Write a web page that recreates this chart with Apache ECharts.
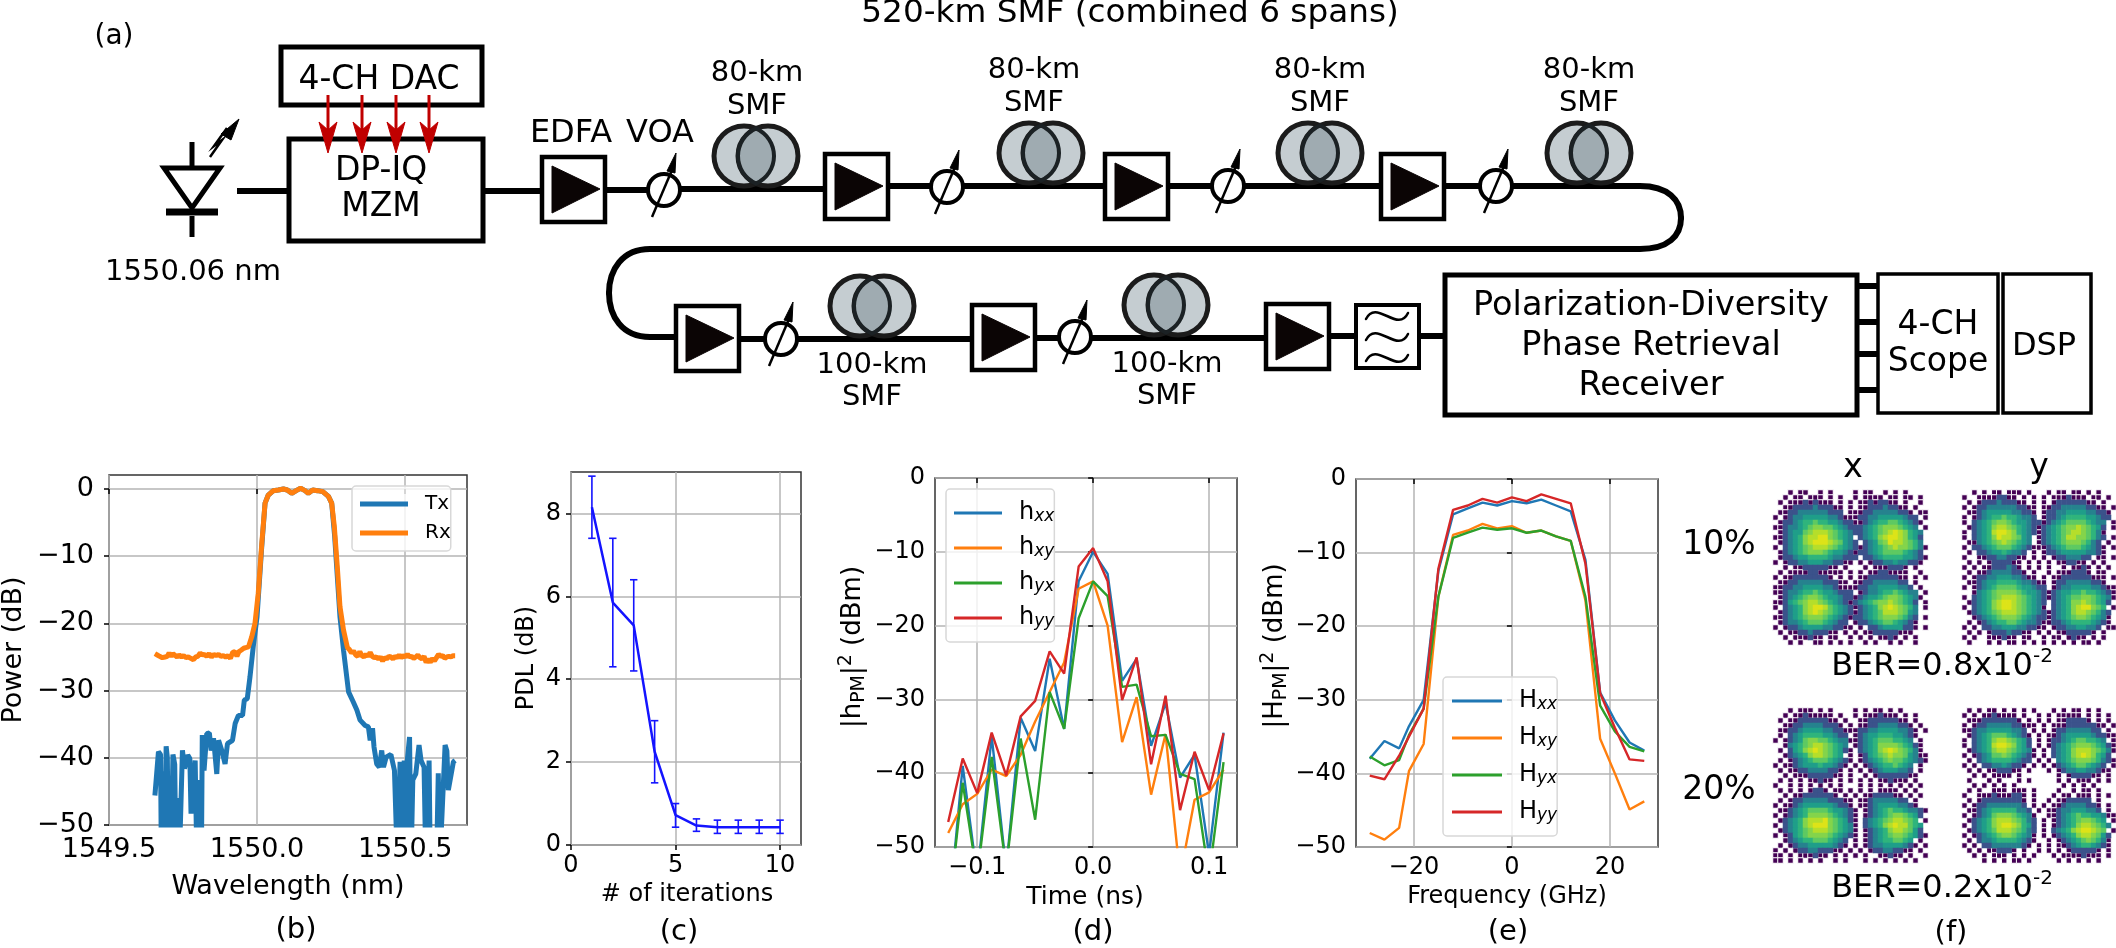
<!DOCTYPE html>
<html>
<head>
<meta charset="utf-8">
<title>520-km SMF</title>
<script src="https://cdn.jsdelivr.net/npm/echarts@6/dist/echarts.min.js"></script>
<style>
html, body { margin: 0; padding: 0; background: #fff; }
#main { width: 2116px; height: 948px; }
</style>
</head>
<body>
<div id="main"></div>
<script>
// (b) spectra
var wavelengthTx = [1549.655,1549.667,1549.674,1549.677,1549.683,1549.687,1549.693,1549.697,1549.701,1549.705,1549.709,1549.716,1549.722,1549.726,1549.731,1549.735,1549.741,1549.748,1549.755,1549.766,1549.773,1549.777,1549.791,1549.797,1549.800,1549.804,1549.808,1549.812,1549.815,1549.821,1549.830,1549.839,1549.845,1549.853,1549.864,1549.870,1549.881,1549.892,1549.900,1549.917,1549.926,1549.937,1549.951,1549.957,1549.967,1549.976,1549.987,1550.000,1550.015,1550.027,1550.038,1550.055,1550.072,1550.089,1550.102,1550.117,1550.132,1550.147,1550.162,1550.173,1550.188,1550.204,1550.222,1550.241,1550.252,1550.262,1550.280,1550.292,1550.309,1550.325,1550.337,1550.348,1550.365,1550.376,1550.382,1550.390,1550.395,1550.404,1550.413,1550.421,1550.427,1550.436,1550.452,1550.464,1550.474,1550.483,1550.489,1550.497,1550.501,1550.508,1550.515,1550.520,1550.526,1550.536,1550.547,1550.554,1550.564,1550.570,1550.581,1550.585,1550.606,1550.612,1550.617,1550.635,1550.641,1550.646,1550.663,1550.669];
var powerTx = [-45.6,-39.1,-39.5,-56,-42,-56,-38.3,-40,-56,-43,-56,-39.5,-41,-56,-46,-56,-50,-38.9,-41.6,-39.6,-40.1,-48.3,-40.4,-56,-43.3,-56,-43.3,-56,-36.6,-41.9,-36.4,-36.3,-38.9,-37.1,-42.4,-37.4,-38.9,-40.9,-37.9,-37.4,-34.9,-33.7,-33.7,-31.4,-31.2,-28,-23.5,-19,-9.1,-2.1,-0.9,-0.25,-0.15,0,-0.15,-0.65,-0.25,0.1,-0.25,-0.65,-0.15,-0.25,-0.4,-1.1,-2.1,-7,-19,-24,-30.2,-31.7,-32.9,-34.4,-35.2,-35.4,-37.4,-35.6,-38.4,-40.9,-41.4,-38.9,-41.4,-39.9,-39.5,-41.9,-56,-40.6,-56,-40.4,-56,-40.1,-36.9,-56,-43.3,-42.4,-38.1,-40.4,-41.4,-56,-40.4,-56,-56,-42.3,-56,-38.1,-39,-44.8,-40.6,-40.4];
var wavelengthRx = [1549.655,1549.663,1549.671,1549.680,1549.689,1549.697,1549.703,1549.710,1549.716,1549.722,1549.730,1549.737,1549.745,1549.752,1549.760,1549.768,1549.776,1549.785,1549.793,1549.800,1549.808,1549.815,1549.822,1549.830,1549.838,1549.846,1549.854,1549.862,1549.870,1549.878,1549.886,1549.894,1549.902,1549.910,1549.918,1549.925,1549.932,1549.939,1549.946,1549.955,1549.962,1549.971,1549.982,1549.993,1550.004,1550.016,1550.027,1550.038,1550.055,1550.072,1550.089,1550.102,1550.117,1550.132,1550.147,1550.162,1550.173,1550.188,1550.204,1550.222,1550.241,1550.252,1550.261,1550.271,1550.280,1550.292,1550.305,1550.312,1550.319,1550.326,1550.333,1550.340,1550.347,1550.354,1550.361,1550.368,1550.375,1550.382,1550.389,1550.396,1550.403,1550.410,1550.417,1550.424,1550.431,1550.438,1550.445,1550.452,1550.459,1550.466,1550.473,1550.480,1550.487,1550.494,1550.501,1550.508,1550.515,1550.522,1550.529,1550.536,1550.543,1550.550,1550.557,1550.564,1550.571,1550.578,1550.585,1550.592,1550.599,1550.606,1550.613,1550.620,1550.627,1550.634,1550.641,1550.648,1550.655,1550.662,1550.669];
var powerRx = [-24.5,-24.7,-24.9,-25.1,-25,-24.9,-24.4,-24.9,-24.5,-24.7,-25,-24.7,-25,-24.8,-25.1,-25,-25.2,-25.4,-25,-24.9,-24.4,-24.7,-24.6,-24.9,-24.5,-25,-24.6,-24.8,-24.6,-24.9,-24.8,-25,-24.8,-25.2,-24.3,-24.2,-24.9,-24.2,-24,-23.7,-23.6,-23.5,-22,-20,-15.5,-8.1,-2.1,-0.9,-0.25,-0.15,0,-0.15,-0.65,-0.25,0.1,-0.25,-0.65,-0.15,-0.25,-0.4,-1.1,-2.1,-5.6,-11.6,-17.5,-21,-23.6,-23.9,-24.4,-24.1,-24.7,-24.9,-24.2,-24.8,-25,-24.6,-24.9,-24.3,-24.9,-25.1,-25,-25.3,-25,-25.6,-25.1,-25.3,-24.9,-25,-25.3,-24.9,-25.1,-24.7,-25.1,-24.8,-25,-24.6,-25,-24.9,-25.2,-25,-24.7,-25.1,-25.3,-24.9,-25.8,-25.3,-25.8,-25.2,-25.6,-25.1,-24.6,-24.9,-24.8,-25.2,-25,-24.9,-25,-24.8,-24.8];

// (c) PDL against iterations
var iterations = [1,2,3,4,5,6,7,8,9,10];
var pdlMean = [8.15,5.85,5.3,2.25,0.72,0.47,0.43,0.43,0.43,0.43];
var pdlLow = [7.4,4.3,4.2,1.5,0.43,0.33,0.28,0.28,0.28,0.28];
var pdlHigh = [8.9,7.4,6.4,3.0,1.0,0.63,0.6,0.6,0.6,0.6];

// (d) impulse responses
var timeNs = [-0.125,-0.1125,-0.1,-0.0875,-0.075,-0.0625,-0.05,-0.0375,-0.025,-0.0125,0,0.0125,0.025,0.0375,0.05,0.0625,0.075,0.0875,0.1,0.1125];
var hxx = [-60,-39,-54,-35,-53,-32.5,-37,-24.5,-34,-14,-10,-13,-27.5,-24.5,-36.3,-30.5,-40.6,-37.5,-51,-34.5];
var hxy = [-48.1,-44.2,-42.8,-39.5,-40.4,-37.5,-33,-29,-25,-15,-14,-20,-35.8,-29.7,-42.9,-34.7,-54,-43.6,-42.6,-39.5];
var hyx = [-59,-41.3,-54,-37.8,-53,-35.3,-46.3,-29,-34,-19,-14,-16,-28.3,-28,-35,-34.8,-40.1,-40.8,-54,-38.5];
var hyy = [-46.6,-38,-42.7,-34.5,-40.3,-32.3,-30.2,-23.5,-26.5,-12,-9.5,-14,-30.1,-24.3,-38.8,-29.5,-45,-37.1,-42.3,-34.6];

// (e) frequency responses
var freqGHz = [-29,-26,-23,-21,-18,-15,-12,-9,-6,-3,0,3,6,9,12,15,18,21,24,27];
var Hxx = [-38,-35.6,-36.6,-33.6,-30,-12.5,-4.8,-4,-3.2,-3.6,-3,-3.3,-2.8,-3.6,-4.4,-11,-29,-32.8,-35.8,-36.9];
var Hxy = [-48.1,-49,-47.4,-39.7,-36,-16,-7.6,-7,-6.1,-6.7,-6.4,-7.3,-7,-7.8,-8.4,-16.5,-35.3,-40,-44.9,-43.8];
var Hyx = [-37.7,-38.9,-38.2,-34.8,-31.2,-16,-8,-7.3,-6.6,-6.9,-6.7,-7.3,-7,-7.8,-8.4,-16,-30.8,-34.3,-36.4,-37];
var Hyy = [-40.3,-40.8,-37.6,-35,-31.2,-12.2,-4.2,-3.6,-2.7,-3.2,-2.5,-3,-2.1,-2.7,-3.3,-11.5,-29.1,-33.8,-38.1,-38.3];

// (f) constellation densities, estimated per cell, 0-9, . = empty
var density10x = [
"...1.11..1.1....1.11..1.1.1....","..1.11.111.1.1..1.1111.11.11.1.",".1.111212111.1.1.11212211.1..1.","..112222322211.1.1122232211.1..",
".1122333333222.1112233333221.11","1.123344444332111223344444322.1",".12234556554432211234556654321.","11233456776654322234567776543.1",
".12344678887654322345678987543.","1123457889976543.2345789987542.",".1234578999876432.234679887653.","1.23456788876543212345678776531",
".12345677765443212234566665432.",".1223445555433222.2234555544321","1.12233444332211.1.12233433221.","..1.112222211.1...1.1112221.1..",
".1.11112211111.1.1.11221111..1.","1.1122222221.1.1.1122222211.1.1",".11223333322211.11223333322.1..","1122334444332111122334444332.1.",
"1123345565443222.123345565433.1",".12345677654432212344567765431.","11245678876543212345677876542.1","1.234578998654321234578987653.1",
".1234578987654321234568887643..","11234567776543212234567776532.1",".12334566654322.1223456654321..","1.12234444332211.1.2234444221.1",
".1.1122322211.1.1.1122222111...","..1.111211.11..1.1.1.1121.1.1..","...1.1..11.1.1.1..1.1..1.1..1.."];
var density10y = [
"..1.1.11.111.1...1.11.11.1.1...","1..11112211.1.1.1.1112111.11.1.",".1.1222322211.1.1.122222211.1..","1.1223333332211.1122333332211.1",
".11234444433221.12233444433221.","1.1234556554332.12234555544322.","1.234567765443221234566665433.1",".1234578876543212345677876542.1",
"1.234589987543212345678876531..","1.234579887643.12345688776532.1",".1134567876543.1234567776532.1.","1.223456665432111234566654321.1",
".1.2234454332.1.1223444443321..","1..1122332211.1.1.12233322.11.1",".1.1.1222211.1.1.1.112211.1.1..","1.1.11222321.1.1.1..1.1121.1.1.",
".1.1123333221.1..1.1112221.11..","1.1223344433211.1.11222222111.1",".1123445555433211.12233333221..","1.123456666544322.1233444433211",
"..13456777765443212344556554321","1.23456788876543212345667765431",".1234578998765432.234577876542.","1.234578998765431.23457899765.1",
".12345678887654321234578876532.","..1234567776543221234567765431.",".1.123455665433211223455554321.","1.1.2233444332211.1223344332.11",
".1.1.122232211.1.1.11222221.1..","1.1..111211.11..1.11.1211.1.1..",".1...1.1.11.1.1.1.1.1.1.11.1..."];
var density20x = [
"...1.111.1.1....1.1.11.1.1.....","..1.11211111.1..1.1112111.1.1..",".1.1122222211.1..1122222211.1..","..112233332221.1.11223333221.1.",
".1122344443322111223344443321.1",".1.234555544322.1234455544321..","1.12346776654331123456665543.1.","..1345678876543.12345777765421.",
".1.2457898765421.2345789876531.","..123457887654.1.12456787764311",".1.1234566654321.12345676654321","1.1123444544321.1.1234556543.1.",
".1.11223333221.1.1.123444332.1.","..1.1112222211.1..1.122222211..",".1.1.1.11211.1.1.1.1.112111.1..","1..1.1.1.1.1.1...1.1.1.1.1.1.1.",
".1.1.1.1221.11.1.1.1.1111.1.1..","..1.112222221.1.1.11222211.1.1.",".1.1223333322211.1123333322.1..","1.11234444443221.112344443321..",
".1123456666544321.1234565543321","1.123457777654321.123456776542.",".1234578889765421.23456788765.1","1.234578999765431.234578988654.",
".1234567888765431.123457887642.","1.124567777654321.1234567765421","..1234556665432.1.1234556654.1.",".1.123344444321.1.12334444321.1",
"1.1.1223322211.1.1.122332211.1.","11.1.111211.1.1.1.1..11211.1..1","11.1.1.1.1..1.1...1.1.1.1.1.1.."];
var density20y = [
".1.1.11.1.1.1.1...1.1.11.1.1...","1.1.1121111.1..1.1.11111.1.1.1.",".11122222221.1.1.1.1122221.1.1.","1.1223333322111.1.11122222211.1",
"1123344444332.1.1.1223333322.1.",".1234566654321.1.11234444432211","1.234578876542.1.122345665543.1","1.234589987542.1.12345677765421",
".12345788765431.1.2345788876531","1.1234667654321.1.234578987542.",".1.23455554322.1.1.345677765321","1.1.223343221.1.1.12345665432.1",
".1.1.1122211.1...1.12334433211.","..1.1.1111.1.......1.1222211.1.",".1...1.1...1.1.....1.1.111.1.1.","..1.1.1.1.1.........1.1.1.1....",
".1.1..111.111.1....1..1.11.1...","1..1112111221.1...1.11.111.1.1.",".1.1222222221.1..1.1122222.1...","1.12233333332.1.1.1123333221.1.",
".1123455555332.1.11233444332.1.","1.1234677765431..11234565544311",".12345788876532.1.12345677654.1","1.2345789987542.1.123457887653.",
".12345688876532.1.23457899876.1","1.1234567765431.1.123457887642.",".1.233455554321..1.12345676531.","1.1.2233333321.1.1.11234554321.",
".1.1.112221.1..1.1.1.1222221.1.","..1.1.111.1.1.1...1.11112111.1.","....1.1.1.11.1.....1.1.1.1.1..."];

var FONT = '"DejaVu Sans"';
var C = ['#1f77b4', '#ff7f0e', '#2ca02c', '#d62728'];
var viridis = ['#440154', '#3b528b', '#26828e', '#1f9e89', '#2fb47c', '#5ec962', '#84d44b', '#b5de2b', '#dde318'];

function zip(a, b) { return a.map(function (v, i) { return [v, b[i]]; }); }
function minus(v) { return String(v).replace('-', '\u2212'); }
function cells(rows, lo, hi) {
	var out = [];
	rows.forEach(function (r, y) {
		for (var x = 0; x < r.length; x++) {
			if (r[x] !== '.' && +r[x] >= lo && +r[x] <= hi) out.push([x, y, +r[x]]);
		}
	});
	return out;
}

function xAxis(i, min, max, ticks, fmt, fs, margin) {
	return {
		type: 'value', gridIndex: i, min: min, max: max,
		axisLine: { show: false },
		axisTick: { show: true, customValues: ticks, length: 5, lineStyle: { color: '#000', width: 1.5 } },
		axisLabel: { customValues: ticks, formatter: fmt, fontFamily: FONT, fontSize: fs, color: '#000', margin: margin, hideOverlap: false },
		splitLine: { show: true, lineStyle: { color: '#b4b4b4', width: 1.5 } }
	};
}
function yAxis(i, min, max, ticks, fs, margin) {
	return {
		type: 'value', gridIndex: i, min: min, max: max,
		axisLine: { show: false },
		axisTick: { show: true, customValues: ticks, length: 5, lineStyle: { color: '#000', width: 1.5 } },
		axisLabel: { customValues: ticks, formatter: minus, fontFamily: FONT, fontSize: fs, color: '#000', margin: margin, hideOverlap: false },
		splitLine: { show: true, lineStyle: { color: '#b4b4b4', width: 1.5 } }
	};
}
function line(name, i, data, color, width) {
	return { name: name, type: 'line', xAxisIndex: i, yAxisIndex: i, data: data, showSymbol: false, symbol: 'none', animation: false,
		lineStyle: { color: color, width: width }, itemStyle: { color: color }, clip: true };
}
function frame(l, t, r, b) {
	return { left: l, top: t, width: r - l, height: b - t, show: true, borderColor: '#333', borderWidth: 1.5, backgroundColor: '#fff' };
}
function legendBox(names, left, top, w, itemH, gap, pad, fmt, rich, fs) {
	return {
		data: names, left: left, top: top, orient: 'vertical', icon: 'rect', itemWidth: w, itemHeight: itemH, itemGap: gap, padding: pad,
		backgroundColor: 'rgba(255,255,255,0.8)', borderColor: '#d8d8d8', borderWidth: 1.5, borderRadius: 4,
		formatter: fmt, selectedMode: false,
		textStyle: { fontFamily: FONT, fontSize: fs, color: '#000', rich: rich }
	};
}

// schematic drawn with graphic elements
var g = [];
function text(s, x, y, size, rot) {
	g.push({ type: 'text', x: x, y: y, rotation: rot || 0, silent: true,
		style: { text: s, x: 0, y: 0, align: 'center', verticalAlign: 'middle', fontFamily: FONT, fontSize: size, fill: '#000' } });
}
function box(x0, y0, x1, y1, lw) {
	g.push({ type: 'rect', shape: { x: x0, y: y0, width: x1 - x0, height: y1 - y0 }, style: { fill: '#fff', stroke: '#000', lineWidth: lw } });
}
function pl(points, stroke, lw) {
	g.push({ type: 'polyline', shape: { points: points }, style: { fill: null, stroke: stroke, lineWidth: lw } });
}
function tri(points, fill) {
	g.push({ type: 'polygon', shape: { points: points }, style: { fill: fill, stroke: fill, lineWidth: 1 } });
}
function curve(x1, y1, a, b, c, d, x2, y2, stroke, lw) {
	g.push({ type: 'bezierCurve', shape: { x1: x1, y1: y1, cpx1: a, cpy1: b, cpx2: c, cpy2: d, x2: x2, y2: y2 }, style: { fill: null, stroke: stroke, lineWidth: lw, lineCap: 'round' } });
}
function wire(x0, x1, y) { pl([[x0, y], [x1, y]], '#000', 6); }
function amp(x0, y0) {
	box(x0, y0, x0 + 63, y0 + 65, 4.5);
	tri([[x0 + 10, y0 + 9], [x0 + 58, y0 + 32], [x0 + 10, y0 + 56]], '#0b0505');
}
function voa(x, y) {
	g.push({ type: 'circle', shape: { cx: x, cy: y, r: 16 }, style: { fill: '#fff', stroke: '#000', lineWidth: 4 } });
	pl([[x - 12, y + 27], [x + 8, y - 20]], '#000', 2.5);
	tri([[x + 12, y - 37], [x + 11, y - 17], [x + 3, y - 19]], '#000');
}
function coil(cx, cy) {
	var r = 30, d = 12, a = Math.acos(d / r), pts = [], n = 16, i, t;
	g.push({ type: 'circle', shape: { cx: cx - d, cy: cy, r: r }, style: { fill: '#c5cdd1', stroke: '#1b1b1b', lineWidth: 5 } });
	g.push({ type: 'circle', shape: { cx: cx + d, cy: cy, r: r }, style: { fill: '#c5cdd1', stroke: '#1b1b1b', lineWidth: 5 } });
	for (i = 0; i <= n; i++) { t = -a + 2 * a * i / n; pts.push([cx - d + r * Math.cos(t), cy + r * Math.sin(t)]); }
	for (i = 0; i <= n; i++) { t = Math.PI - a + 2 * a * i / n; pts.push([cx + d + r * Math.cos(t), cy + r * Math.sin(t)]); }
	g.push({ type: 'polygon', shape: { points: pts }, style: { fill: '#9fabb1', stroke: '#1b2124', lineWidth: 4 } });
}
function redArrow(x) {
	pl([[x, 95], [x, 130]], '#c00000', 3);
	tri([[x, 153], [x - 9, 122], [x, 130], [x + 9, 122]], '#c00000');
}

text('(a)', 114, 37, 28);
text('520-km SMF (combined 6 spans)', 1130, 14, 32.7);

// laser
pl([[192, 142], [192, 168]], '#000', 5);
pl([[192, 216], [192, 237]], '#000', 5);
g.push({ type: 'polygon', shape: { points: [[164, 168], [220, 168], [192, 208]] }, style: { fill: '#fff', stroke: '#000', lineWidth: 5 } });
pl([[166, 212], [218, 212]], '#000', 7);
pl([[210, 157], [222, 140], [214, 146], [227, 128]], '#000', 2.5);
tri([[239, 119], [221, 134], [231, 140]], '#000');
wire(237, 287, 191);
text('1550.06 nm', 193, 272, 29);

box(281, 47, 482, 105, 5);
text('4-CH DAC', 379, 80, 33);
box(289, 139, 483, 241, 5);
text('DP-IQ', 381, 171, 33);
text('MZM', 381, 207, 33);
[328, 362, 396, 429].forEach(redArrow);

text('EDFA', 571, 134, 32);
text('VOA', 660, 134, 32);

// first row wires
wire(484, 542, 191); wire(605, 650, 190); wire(680, 825, 189);
wire(889, 932, 186); wire(962, 1105, 186); wire(1169, 1212, 186); wire(1244, 1381, 186); wire(1445, 1480, 186);
wire(1511, 1640, 186);
curve(1640, 186, 1668, 186, 1681, 200, 1681, 218, '#000', 6);
curve(1681, 218, 1681, 236, 1668, 249, 1640, 249, '#000', 6);
wire(650, 1640, 249);
curve(650, 249, 622, 249, 609, 270, 609, 293, '#000', 6);
curve(609, 293, 609, 316, 622, 337, 650, 337, '#000', 6);
wire(650, 676, 337);
// second row wires
wire(740, 766, 339); wire(796, 972, 339); wire(1035, 1060, 338); wire(1090, 1266, 338); wire(1330, 1354, 336); wire(1420, 1443, 336);

[[542, 157], [825, 154], [1105, 154], [1381, 154], [676, 306], [972, 305], [1266, 304]].forEach(function (p) { amp(p[0], p[1]); });
[[664, 190], [947, 187], [1228, 186], [1496, 186], [781, 339], [1075, 337]].forEach(function (p) { voa(p[0], p[1]); });
[[756, 156], [1041, 153], [1320, 153], [1589, 153], [872, 306], [1166, 305]].forEach(function (p) { coil(p[0], p[1]); });

[[757, 73, 106], [1034, 70, 103], [1320, 70, 103], [1589, 70, 103]].forEach(function (p) {
	text('80-km', p[0], p[1], 29);
	text('SMF', p[0], p[2], 29);
});
[[872, 365, 397], [1167, 364, 396]].forEach(function (p) {
	text('100-km', p[0], p[1], 29);
	text('SMF', p[0], p[2], 29);
});

// band-pass filter
box(1356, 305, 1419, 368, 4);
[316, 337, 358].forEach(function (y) {
	curve(1366, y + 3, 1376, y - 18, 1398, y + 18, 1408, y - 3, '#000', 2.5);
});

box(1445, 275, 1857, 415, 5);
text('Polarization-Diversity', 1651, 306, 33.5);
text('Phase Retrieval', 1651, 346, 33.5);
text('Receiver', 1651, 386, 33.5);
[286, 322, 354, 390].forEach(function (y) { pl([[1858, y], [1878, y]], '#000', 6); });
box(1878, 274, 1998, 413, 3.5);
text('4-CH', 1938, 325, 33);
text('Scope', 1938, 362, 33);
box(2003, 274, 2091, 413, 3.5);
text('DSP', 2044, 347, 32);

// axis titles
text('Wavelength (nm)', 288, 887, 27);
text('Power (dB)', 14, 650, 27, Math.PI / 2);
text('# of iterations', 687, 895, 24);
text('PDL (dB)', 527, 658, 24, Math.PI / 2);
text('Time (ns)', 1085, 897, 25);
text('Frequency (GHz)', 1507, 897, 24);

// rotated y titles with sub and superscript
function yTitle(letter, x, y) {
	g.push({ type: 'text', x: x, y: y, rotation: Math.PI / 2, silent: true, style: {
		text: '{b||' + letter + '}{s|PM}{b||}{u|2}{b| (dBm)}', x: 0, y: 0, align: 'center', verticalAlign: 'middle',
		rich: {
			b: { fontFamily: FONT, fontSize: 26, fill: '#000', lineHeight: 32 },
			s: { fontFamily: FONT, fontSize: 19, fill: '#000', verticalAlign: 'bottom', lineHeight: 32 },
			u: { fontFamily: FONT, fontSize: 19, fill: '#000', verticalAlign: 'top', lineHeight: 32 }
		}
	} });
}
yTitle('h', 853, 647);
yTitle('H', 1275, 646);

text('(b)', 296, 930, 29);
text('(c)', 679, 932, 29);
text('(d)', 1093, 932, 29);
text('(e)', 1508, 932, 29);
text('(f)', 1951, 933, 29);

text('x', 1853, 468, 33);
text('y', 2039, 468, 33);
text('10%', 1719, 545, 33);
text('20%', 1719, 790, 33);
function berText(s, y) {
	g.push({ type: 'text', x: 1942, y: y, silent: true, style: {
		text: '{b|' + s + '}{u|-2}', x: 0, y: 0, align: 'center', verticalAlign: 'middle',
		rich: {
			b: { fontFamily: FONT, fontSize: 32, fill: '#000', lineHeight: 40 },
			u: { fontFamily: FONT, fontSize: 20, fill: '#000', verticalAlign: 'top', lineHeight: 40 }
		}
	} });
}
berText('BER=0.8x10', 667);
berText('BER=0.2x10', 889);

var legendRich = {
	b: { fontFamily: FONT, fontSize: 24, color: '#000', padding: [0, 0, 0, 12] },
	i: { fontFamily: FONT, fontSize: 17, fontStyle: 'italic', color: '#000', verticalAlign: 'bottom' }
};
function subName(n) { return '{b|' + n[0] + '}{i|' + n.slice(1) + '}'; }

var constellationPanels = [
	{ rows: density10x, l: 1773, t: 490 },
	{ rows: density10y, l: 1962, t: 490 },
	{ rows: density20x, l: 1773, t: 708 },
	{ rows: density20y, l: 1962, t: 708 }
];
var cellAxis = Array.apply(null, { length: 31 }).map(function (_, i) { return i; });

var grids = [
	frame(109, 475, 467, 825),
	frame(571, 472, 801, 845),
	frame(935, 478, 1237, 847),
	frame(1356, 479, 1658, 847)
];
var xAxes = [
	xAxis(0, 1549.5, 1550.709, [1549.5, 1550, 1550.5], function (v) { return (+v).toFixed(1); }, 27, 11),
	xAxis(1, 0, 11, [0, 5, 10], function (v) { return String(v); }, 24, 9),
	xAxis(2, -0.1364, 0.1241, [-0.1, 0, 0.1], function (v) { return minus((+v).toFixed(1)); }, 24, 9),
	xAxis(3, -31.8, 29.8, [-20, 0, 20], minus, 24, 9)
];
var yAxes = [
	yAxis(0, -50, 2.08, [-50, -40, -30, -20, -10, 0], 27, 15),
	yAxis(1, 0, 9, [0, 2, 4, 6, 8], 24, 10),
	yAxis(2, -50, 0, [-50, -40, -30, -20, -10, 0], 24, 10),
	yAxis(3, -50, 0, [-50, -40, -30, -20, -10, 0], 24, 10)
];

var series = [
	line('Tx', 0, zip(wavelengthTx, powerTx), C[0], 5),
	line('Rx', 0, zip(wavelengthRx, powerRx), C[1], 5),
	line('PDL', 1, zip(iterations, pdlMean), '#1414ff', 2.5),
	{
		type: 'custom', xAxisIndex: 1, yAxisIndex: 1, animation: false, silent: true,
		data: iterations.map(function (v, i) { return [v, pdlLow[i], pdlHigh[i]]; }),
		renderItem: function (params, api) {
			var lo = api.coord([api.value(0), api.value(1)]);
			var hi = api.coord([api.value(0), api.value(2)]);
			var st = { stroke: '#1414ff', lineWidth: 1.6, fill: 'none' };
			return { type: 'group', children: [
				{ type: 'line', shape: { x1: lo[0], y1: lo[1], x2: hi[0], y2: hi[1] }, style: st },
				{ type: 'line', shape: { x1: lo[0] - 3.7, y1: lo[1], x2: lo[0] + 3.7, y2: lo[1] }, style: st },
				{ type: 'line', shape: { x1: hi[0] - 3.7, y1: hi[1], x2: hi[0] + 3.7, y2: hi[1] }, style: st }
			] };
		}
	},
	line('hxx', 2, zip(timeNs, hxx), C[0], 2.4),
	line('hxy', 2, zip(timeNs, hxy), C[1], 2.4),
	line('hyx', 2, zip(timeNs, hyx), C[2], 2.4),
	line('hyy', 2, zip(timeNs, hyy), C[3], 2.4),
	line('Hxx', 3, zip(freqGHz, Hxx), C[0], 2.4),
	line('Hxy', 3, zip(freqGHz, Hxy), C[1], 2.4),
	line('Hyx', 3, zip(freqGHz, Hyx), C[2], 2.4),
	line('Hyy', 3, zip(freqGHz, Hyy), C[3], 2.4)
];

// sparse cells are drawn as small specks, dense cells fill their whole bin
var heatIndex = [];
constellationPanels.forEach(function (p, i) {
	var k = 4 + i;
	grids.push({ left: p.l, top: p.t, width: 155, height: 155, show: false });
	xAxes.push({ type: 'category', gridIndex: k, data: cellAxis, show: false });
	yAxes.push({ type: 'category', gridIndex: k, data: cellAxis, inverse: true, show: false });
	heatIndex.push(series.length);
	series.push({ type: 'heatmap', xAxisIndex: k, yAxisIndex: k, data: cells(p.rows, 1, 1), animation: false, silent: true, progressive: 0,
		itemStyle: { borderColor: '#fff', borderWidth: 1 } });
	heatIndex.push(series.length);
	series.push({ type: 'heatmap', xAxisIndex: k, yAxisIndex: k, data: cells(p.rows, 2, 9), animation: false, silent: true, progressive: 0 });
});

var myChart = echarts.init(document.getElementById('main'), null, { renderer: 'canvas' });
myChart.setOption({
	animation: false,
	backgroundColor: '#fff',
	grid: grids,
	xAxis: xAxes,
	yAxis: yAxes,
	legend: [
		legendBox(['Tx', 'Rx'], 352, 486, 48, 5, 9, [8, 0, 8, 8], function (n) { return '{b|' + n + '}'; },
			{ b: { fontFamily: FONT, fontSize: 20, color: '#000', padding: [0, 16, 0, 12] } }, 20),
		legendBox(['hxx', 'hxy', 'hyx', 'hyy'], 946, 489, 48, 3, 11, [12, 0, 12, 8], subName, legendRich, 24),
		legendBox(['Hxx', 'Hxy', 'Hyx', 'Hyy'], 1443, 677, 50, 3, 13, [12, 0, 12, 9], subName, legendRich, 24)
	],
	visualMap: {
		show: false, type: 'piecewise', seriesIndex: heatIndex, dimension: 2,
		pieces: viridis.map(function (c, i) { return { value: i + 1, color: c }; })
	},
	series: series,
	graphic: { elements: g }
});
</script>
</body>
</html>
